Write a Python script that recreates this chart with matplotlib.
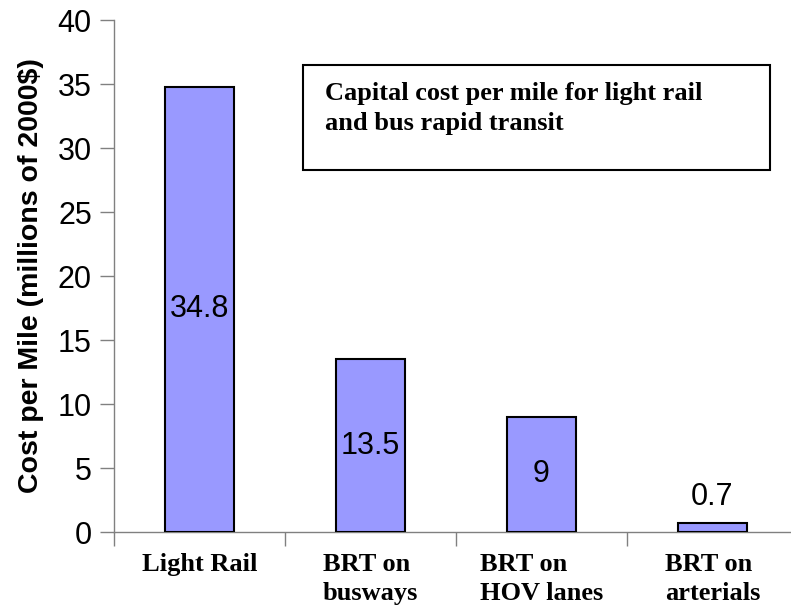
import matplotlib
matplotlib.use('Agg')
from matplotlib import pyplot as plt
from matplotlib.ticker import FixedLocator, NullFormatter

categories = ['Light Rail', 'BRT on\nbusways', 'BRT on\nHOV lanes', 'BRT on\narterials']
costs = [34.8, 13.5, 9, 0.7]
cost_labels = ['34.8', '13.5', '9', '0.7']

sans = 'Liberation Sans'
serif = 'Liberation Serif'

fig = plt.figure(figsize=(7.91, 6.11), dpi=100)
# axes reaches a little past the right edge, as in the original
ax = fig.add_axes([114/791, (611-532)/611, 684/791, 512/611])

x = range(len(costs))
ax.bar(x, costs, width=0.4, color='#9999ff', edgecolor='black', linewidth=1.5, zorder=3)

for i, (v, lab) in enumerate(zip(costs, cost_labels)):
    if v > 3:
        ax.text(i, v / 2, lab, ha='center', va='center', fontsize=22, family=sans)
    else:
        ax.text(i, v + 0.9, lab, ha='center', va='bottom', fontsize=22, family=sans)

ax.set_xlim(-0.5, 3.5)
ax.set_ylim(0, 40)
ax.set_yticks(range(0, 41, 5))
ax.set_yticklabels([str(t) for t in range(0, 41, 5)], family=sans, fontsize=22)

ax.set_xticks(list(x))
ax.set_xticklabels(categories, family=serif, fontsize=19, fontweight='bold',
                   linespacing=1.35, va='top', multialignment='left')
ax.tick_params(axis='x', which='major', length=0, pad=15)
ax.xaxis.set_minor_locator(FixedLocator([-0.5, 0.5, 1.5, 2.5]))
ax.xaxis.set_minor_formatter(NullFormatter())
ax.tick_params(axis='x', which='minor', length=10, width=1, color='#808080')
ax.tick_params(axis='y', length=10, width=1, color='#808080', pad=6)

ax.set_ylabel('Cost per Mile (millions of 2000$)', family=sans, fontsize=20.5,
              fontweight='bold', labelpad=10)

for side in ['top', 'right']:
    ax.spines[side].set_visible(False)
for side in ['left', 'bottom']:
    ax.spines[side].set_color('#808080')
    ax.spines[side].set_linewidth(1)

# title box
box = plt.Rectangle((303/791, (611-170)/611), 467/791, 105/611, transform=fig.transFigure,
                    fill=False, edgecolor='black', linewidth=1.5)
fig.add_artist(box)
fig.text(325/791, (611-82)/611, 'Capital cost per mile for light rail\nand bus rapid transit',
         family=serif, fontsize=19, fontweight='bold', va='top', ha='left', linespacing=1.4)

fig.savefig('out.png', dpi=100)
